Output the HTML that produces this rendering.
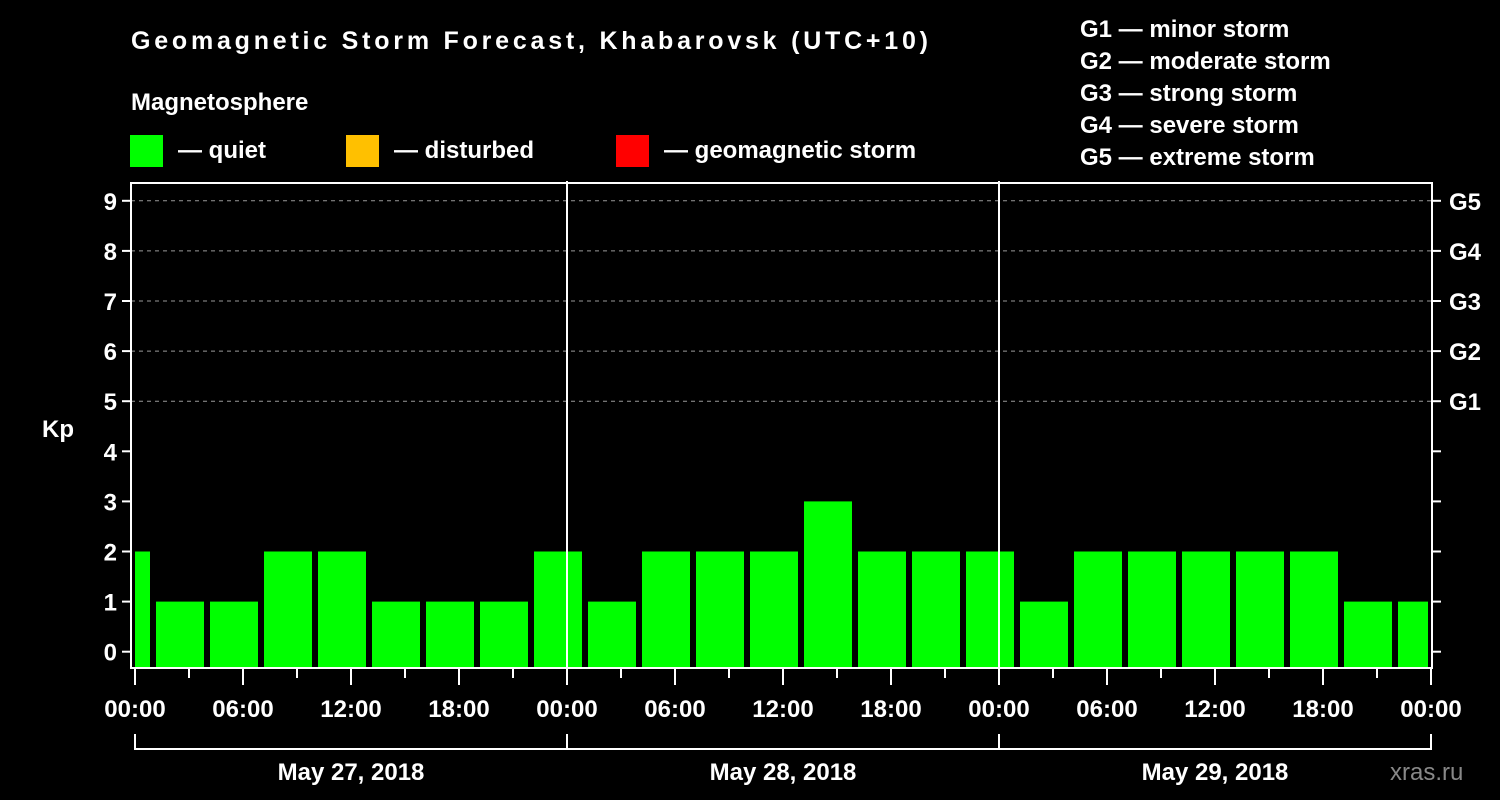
<!DOCTYPE html>
<html><head><meta charset="utf-8"><style>
html,body{margin:0;padding:0;background:#000;}
svg{display:block;font-family:"Liberation Sans",Arial,sans-serif;font-weight:bold;}
</style></head><body>
<svg id="chart" width="1500" height="800" viewBox="0 0 1500 800">
<rect x="0" y="0" width="1500" height="800" fill="#000"/>
<text x="131" y="49" fill="#fff" font-size="25" textLength="797">Geomagnetic Storm Forecast, Khabarovsk (UTC+10)</text>
<text x="131" y="110" fill="#fff" font-size="24">Magnetosphere</text>
<g>
<rect x="130" y="135" width="33" height="32" fill="#00ff00"/>
<text x="178" y="158" fill="#fff" font-size="24">— quiet</text></g>
<g>
<rect x="346" y="135" width="33" height="32" fill="#ffc000"/>
<text x="394" y="158" fill="#fff" font-size="24">— disturbed</text></g>
<g>
<rect x="616" y="135" width="33" height="32" fill="#ff0000"/>
<text x="664" y="158" fill="#fff" font-size="24">— geomagnetic storm</text></g>
<g font-size="24" fill="#fff">
<text x="1080" y="37">G1 — minor storm</text>
<text x="1080" y="69">G2 — moderate storm</text>
<text x="1080" y="101">G3 — strong storm</text>
<text x="1080" y="133">G4 — severe storm</text>
<text x="1080" y="165">G5 — extreme storm</text>
</g>
<defs><clipPath id="plotclip"><rect x="135" y="183" width="1293" height="485"/></clipPath></defs>
<g id="grid"></g>
<g id="bars" clip-path="url(#plotclip)"></g>
<g id="axes"></g>
<text x="42" y="437" fill="#fff" font-size="24">Kp</text>
<text x="1390" y="780" fill="#888" font-size="24" font-weight="normal">xras.ru</text>
</svg>
<script>
const kpValues = [2,1,1,2,2,1,1,1,2, 1,2,2,2,3,2,2,2, 1,2,2,2,2,2,1,1];
const kpTicks = [0,1,2,3,4,5,6,7,8,9];
const stormLabels = ["G1","G2","G3","G4","G5"];
const stormLevels = [5,6,7,8,9];
const hourLabels = ["00:00","06:00","12:00","18:00","00:00","06:00","12:00","18:00","00:00","06:00","12:00","18:00","00:00"];
const dayLabels = ["May 27, 2018","May 28, 2018","May 29, 2018"];

const NS="http://www.w3.org/2000/svg";
const X0=135, PXH=18, Y0=651.7, PXK=50.1, BOTTOM=668, LEFT=131, RIGHT=1432, TOP=183;
const xs = h => X0 + h*PXH;
const ys = k => Y0 - k*PXK;
function mk(tag, attrs, parent){const e=document.createElementNS(NS,tag);for(const k in attrs)e.setAttribute(k,attrs[k]);parent.appendChild(e);return e;}
const grid=document.getElementById('grid'), bars=document.getElementById('bars'), axes=document.getElementById('axes');

kpTicks.forEach(k=>{
  if(k>=5){
    const g=mk('line',{x1:LEFT,x2:RIGHT,y1:ys(k),y2:ys(k),stroke:'#999','stroke-width':1,'stroke-dasharray':'4,4'},grid);
    
    
  }
  const t=mk('line',{x1:LEFT-9,x2:LEFT,y1:ys(k),y2:ys(k),stroke:'#fff','stroke-width':2},axes);
  
  
  const rt=mk('line',{x1:RIGHT,x2:RIGHT+9,y1:ys(k),y2:ys(k),stroke:'#fff','stroke-width':2},axes);
  
  
  const l=mk('text',{x:LEFT-14,y:ys(k)+9,fill:'#fff','font-size':24,'text-anchor':'end'},axes);
  l.textContent=k;
  
  
});
stormLabels.forEach((s,i)=>{
  const l=mk('text',{x:1449,y:ys(stormLevels[i])+9,fill:'#fff','font-size':24},axes);
  l.textContent=s;
  
  
});
kpValues.forEach((v,i)=>{
  const c=xs(-0.5+3*i);
  const col = v>=5?'#ff0000':(v>=4?'#ffc000':'#00ff00');
  const b=mk('rect',{x:c-24,y:ys(v),width:48,height:BOTTOM-ys(v),fill:col},bars);
  
  
});
// frame
const fr=mk('path',{d:`M${LEFT} ${BOTTOM} V${TOP} H${RIGHT} V${BOTTOM} Z`,fill:'none',stroke:'#fff','stroke-width':2},axes);


[24,48].forEach(h=>{
  const d=mk('line',{x1:xs(h),x2:xs(h),y1:181,y2:BOTTOM,stroke:'#fff','stroke-width':2},axes);
  
  
});
for(let h=0;h<=72;h+=3){
  const major=h%6===0;
  const t=mk('line',{x1:xs(h),x2:xs(h),y1:BOTTOM,y2:major?685:678,stroke:'#fff','stroke-width':2},axes);
  
  
}
hourLabels.forEach((s,i)=>{
  const l=mk('text',{x:xs(i*6),y:717,fill:'#fff','font-size':24,'text-anchor':'middle'},axes);
  l.textContent=s;
  
  
});
dayLabels.forEach((s,i)=>{
  const br=mk('path',{d:`M${xs(i*24)} 734 V749 H${xs(i*24+24)} V734`,fill:'none',stroke:'#fff','stroke-width':2},axes);
  
  
  const l=mk('text',{x:xs(i*24+12),y:780,fill:'#fff','font-size':24,'text-anchor':'middle'},axes);
  l.textContent=s;
  
  
});
</script>
</body></html>
